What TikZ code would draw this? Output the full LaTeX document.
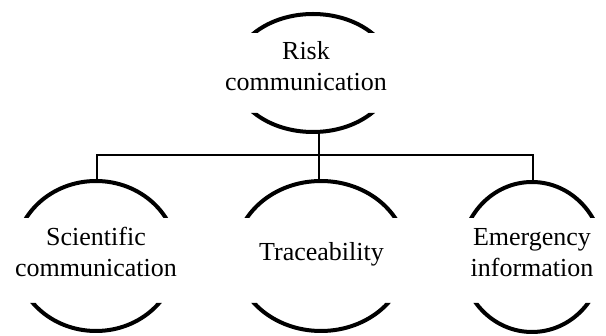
\documentclass[tikz,border=0pt]{standalone}
\usepackage{fontspec}
\setmainfont{Liberation Serif}
\begin{document}
\begin{tikzpicture}[x=1pt,y=-1pt,
  lbl/.style={align=center,inner sep=0pt,font=\fontsize{26}{31}\selectfont},
  ring/.style={line width=4pt},
  conn/.style={line width=2pt}]
\useasboundingbox[fill=white] (0,0) rectangle (606,336);
% split circles: ellipse clipped to two bands
% top node
\begin{scope}
  \clip (220,0) rectangle (410,33) (220,113) rectangle (410,150);
  \draw[ring] (313,73) ellipse [x radius=80pt, y radius=59pt];
\end{scope}
% left node
\begin{scope}
  \clip (0,170) rectangle (190,218) (0,303) rectangle (190,336);
  \draw[ring] (96,256) ellipse [x radius=81pt, y radius=75pt];
\end{scope}
% middle node
\begin{scope}
  \clip (225,170) rectangle (420,218) (225,303) rectangle (420,336);
  \draw[ring] (321,256) ellipse [x radius=86pt, y radius=75pt];
\end{scope}
% right node
\begin{scope}
  \clip (450,170) rectangle (606,218) (450,303) rectangle (606,336);
  \draw[ring] (532,257) ellipse [x radius=71pt, y radius=75pt];
\end{scope}
% labels
\node[lbl] (risk) at (306,66.5) {Risk\\communication};
\node[lbl] (sci) at (96,252) {Scientific\\communication};
\node[lbl] (trace) at (321.5,254) {Traceability};
\node[lbl] (emer) at (532,252.5) {Emergency\\information};
% connector end points on the arcs
\coordinate (riskbot) at (319,132);
\coordinate (junction) at (319,155);
\coordinate (scitop) at (97,181);
\coordinate (tracetop) at (319,181);
\coordinate (emertop) at (533,182);
\draw[conn] (riskbot) -- (junction);
\draw[conn] (junction) -| (scitop);
\draw[conn] (junction) -| (emertop);
\draw[conn] (junction) -- (tracetop);
\end{tikzpicture}
\end{document}
